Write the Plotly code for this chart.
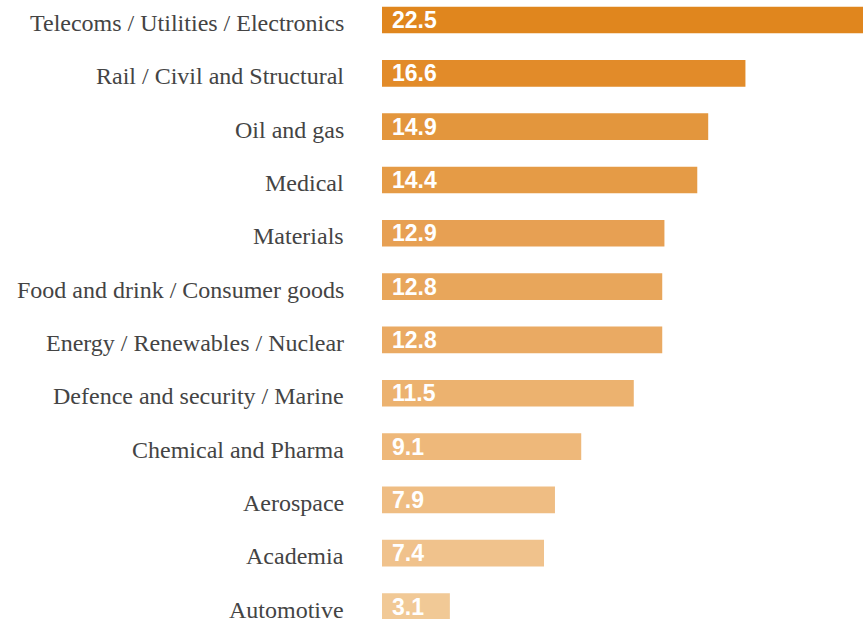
import plotly.graph_objects as go

categories = [
    "Telecoms / Utilities / Electronics",
    "Rail / Civil and Structural",
    "Oil and gas",
    "Medical",
    "Materials",
    "Food and drink / Consumer goods",
    "Energy / Renewables / Nuclear",
    "Defence and security / Marine",
    "Chemical and Pharma",
    "Aerospace",
    "Academia",
    "Automotive",
]
values = [22.5, 16.6, 14.9, 14.4, 12.9, 12.8, 12.8, 11.5, 9.1, 7.9, 7.4, 3.1]
value_labels = ["22.5", "16.6", "14.9", "14.4", "12.9", "12.8", "12.8", "11.5", "9.1", "7.9", "7.4", "3.1"]
bar_colors = [
    "#E0861E", "#E28B29", "#E3963D", "#E59B46", "#E7A053", "#E8A65B",
    "#EAAA63", "#ECB26F", "#EEB87A", "#EFBD83", "#F0C28C", "#F1C996",
]

fig = go.Figure()
fig.add_trace(go.Bar(
    x=values,
    y=categories,
    orientation="h",
    marker=dict(color=bar_colors, line=dict(width=0)),
    width=0.5,
    hoverinfo="skip",
))

for cat, v, lab in zip(categories, values, value_labels):
    fig.add_annotation(
        x=0, y=cat, xref="x", yref="y",
        text="<b>" + lab + "</b>",
        showarrow=False, xanchor="left", yanchor="middle",
        xshift=8,
        font=dict(family="Liberation Sans, Arial, sans-serif", size=23, color="white"),
    )
    fig.add_annotation(
        x=0, y=cat, xref="paper", yref="y",
        text=cat,
        showarrow=False, xanchor="right", yanchor="middle",
        xshift=-36, yshift=-3,
        font=dict(family="Liberation Serif, Times New Roman, serif", size=24, color="#444444"),
    )

fig.update_layout(
    width=863, height=619,
    margin=dict(l=382, r=0, t=0, b=0),
    paper_bgcolor="white",
    plot_bgcolor="white",
    showlegend=False,
)
fig.update_xaxes(
    range=[0, 21.97],
    visible=False,
    showgrid=False,
    zeroline=False,
)
fig.update_yaxes(
    type="category",
    categoryorder="array",
    categoryarray=categories,
    range=[11.234, -0.375],
    showgrid=False,
    zeroline=False,
    showline=False,
    ticks="",
    showticklabels=False,
)

fig.write_html(
    "out.html",
    config={"displayModeBar": False},
    post_script="document.body.style.margin='0';document.documentElement.style.overflow='hidden';document.body.style.overflow='hidden';",
)
